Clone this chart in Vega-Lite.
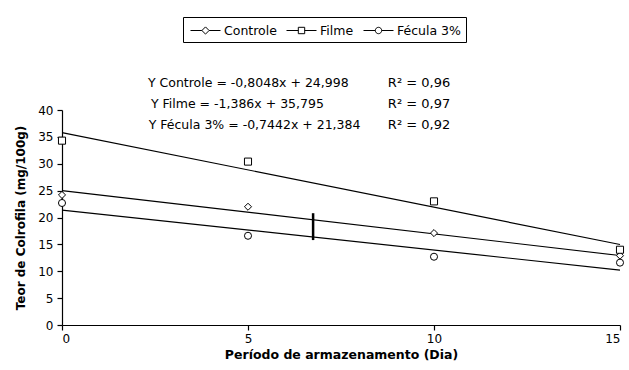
{
  "$schema": "https://vega.github.io/schema/vega-lite/v6.json",
  "width": 558,
  "height": 215,
  "autosize": {"type": "none"},
  "padding": {"left": 62, "top": 110, "right": 9, "bottom": 45},
  "background": "white",
  "config": {
    "view": {"stroke": null},
    "font": "DejaVu Sans",
    "axis": {"grid": false, "domainColor": "black", "tickColor": "black", "labelColor": "black", "titleColor": "black", "labelFont": "DejaVu Sans", "titleFont": "DejaVu Sans", "labelFontSize": 12, "titleFontSize": 12.5, "tickSize": 5, "domainWidth": 1.2, "tickWidth": 1.2, "labelOverlap": false}
  },
  "resolve": {"scale": {"shape": "independent"}, "legend": {"shape": "independent"}},
  "datasets": {
    "points": [
      {"dia": 0, "teor": 24.2, "trat": "Controle"},
      {"dia": 5, "teor": 22.0, "trat": "Controle"},
      {"dia": 10, "teor": 17.1, "trat": "Controle"},
      {"dia": 15, "teor": 12.9, "trat": "Controle"},
      {"dia": 0, "teor": 34.3, "trat": "Filme"},
      {"dia": 5, "teor": 30.4, "trat": "Filme"},
      {"dia": 10, "teor": 23.0, "trat": "Filme"},
      {"dia": 15, "teor": 14.0, "trat": "Filme"},
      {"dia": 0, "teor": 22.7, "trat": "Fécula 3%"},
      {"dia": 5, "teor": 16.6, "trat": "Fécula 3%"},
      {"dia": 10, "teor": 12.7, "trat": "Fécula 3%"},
      {"dia": 15, "teor": 11.6, "trat": "Fécula 3%"}
    ],
    "lines": [
      {"dia": 0, "teor": 24.998, "trat": "Controle"},
      {"dia": 15, "teor": 12.926, "trat": "Controle"},
      {"dia": 0, "teor": 35.795, "trat": "Filme"},
      {"dia": 15, "teor": 14.975, "trat": "Filme"},
      {"dia": 0, "teor": 21.384, "trat": "Fécula 3%"},
      {"dia": 15, "teor": 10.221, "trat": "Fécula 3%"}
    ],
    "eqs": [
      {"dia": 2.31, "teor": 45.0, "txt": "Y Controle = -0,8048x + 24,998"},
      {"dia": 2.39, "teor": 41.1, "txt": "Y Filme = -1,386x + 35,795"},
      {"dia": 2.33, "teor": 37.2, "txt": "Y Fécula 3% = -0,7442x + 21,384"}
    ],
    "r2": [
      {"dia": 8.76, "teor": 45.0, "txt": "R² = 0,96"},
      {"dia": 8.76, "teor": 41.1, "txt": "R² = 0,97"},
      {"dia": 8.76, "teor": 37.2, "txt": "R² = 0,92"}
    ],
    "bar": [
      {"dia": 6.75, "teor": 15.8, "teor2": 20.8}
    ]
  },
  "encoding": {
    "x": {"field": "dia", "type": "quantitative", "scale": {"domain": [0, 15], "nice": false}, "axis": {"values": [0, 5, 10, 15], "title": "Período de armazenamento (Dia)", "titleFontWeight": "bold", "titlePadding": 4, "labelPadding": 3}},
    "y": {"field": "teor", "type": "quantitative", "scale": {"domain": [0, 40], "nice": false}, "axis": {"values": [0, 5, 10, 15, 20, 25, 30, 35, 40], "title": "Teor de Colrofila  (mg/100g)", "titleFontWeight": "bold", "titleFontSize": 12, "titlePadding": 10, "labelPadding": 4}}
  },
  "layer": [
    {
      "data": {"name": "lines"},
      "mark": {"type": "line", "color": "black", "strokeWidth": 1.2},
      "encoding": {
        "detail": {"field": "trat"}
      }
    },
    {
      "data": {"name": "bar"},
      "mark": {"type": "rule", "color": "black", "strokeWidth": 2.5},
      "encoding": {
        "y2": {"field": "teor2"}
      }
    },
    {
      "data": {"name": "points"},
      "mark": {"type": "point", "filled": true, "fill": "white", "stroke": "black", "strokeWidth": 1, "opacity": 1, "size": 50},
      "encoding": {
        "shape": {
          "field": "trat", "type": "nominal",
          "scale": {"domain": ["Controle", "Filme", "Fécula 3%"], "range": ["diamond", "square", "circle"]},
          "legend": null
        }
      }
    },
    {
      "data": {"name": "points"},
      "transform": [{"filter": "datum.dia < 0"}],
      "mark": {"type": "point", "filled": false, "color": "black", "strokeWidth": 1, "opacity": 1, "size": 45},
      "encoding": {
        "shape": {
          "field": "trat", "type": "nominal",
          "scale": {"domain": ["Controle", "Filme", "Fécula 3%"], "range": [
            "M-1.875,0L-0.45,0M0.45,0L1.875,0M0,-0.45L0.45,0L0,0.45L-0.45,0Z",
            "M-1.875,0L-0.4,0M0.4,0L1.875,0M-0.4,-0.4H0.4V0.4H-0.4Z",
            "M-1.875,0L-0.4,0M0.4,0L1.875,0M0.4,0A0.4,0.4,0,1,1,-0.4,0A0.4,0.4,0,1,1,0.4,0Z"
          ]},
          "legend": {
            "title": null, "orient": "none", "legendX": 121, "legendY": -93,
            "direction": "horizontal", "strokeColor": "black", "padding": 5,
            "labelFontSize": 12.5, "labelColor": "black", "labelFont": "DejaVu Sans",
            "symbolSize": 256, "symbolOpacity": 1, "symbolStrokeColor": "black", "symbolStrokeWidth": 1,
            "symbolOffset": 9, "columnPadding": 7, "labelOffset": 10,
            "encode": {"symbols": {"update": {"stroke": {"value": "black"}, "fill": {"value": "white"}, "opacity": {"value": 1}, "strokeWidth": {"value": 1}}}}
          }
        }
      }
    },
    {
      "data": {"name": "eqs"},
      "mark": {"type": "text", "align": "left", "baseline": "middle", "fontSize": 12.5, "color": "black", "font": "DejaVu Sans"},
      "encoding": {
        "text": {"field": "txt"}
      }
    },
    {
      "data": {"name": "r2"},
      "mark": {"type": "text", "align": "left", "baseline": "middle", "fontSize": 13, "color": "black", "font": "DejaVu Sans"},
      "encoding": {
        "text": {"field": "txt"}
      }
    }
  ]
}
